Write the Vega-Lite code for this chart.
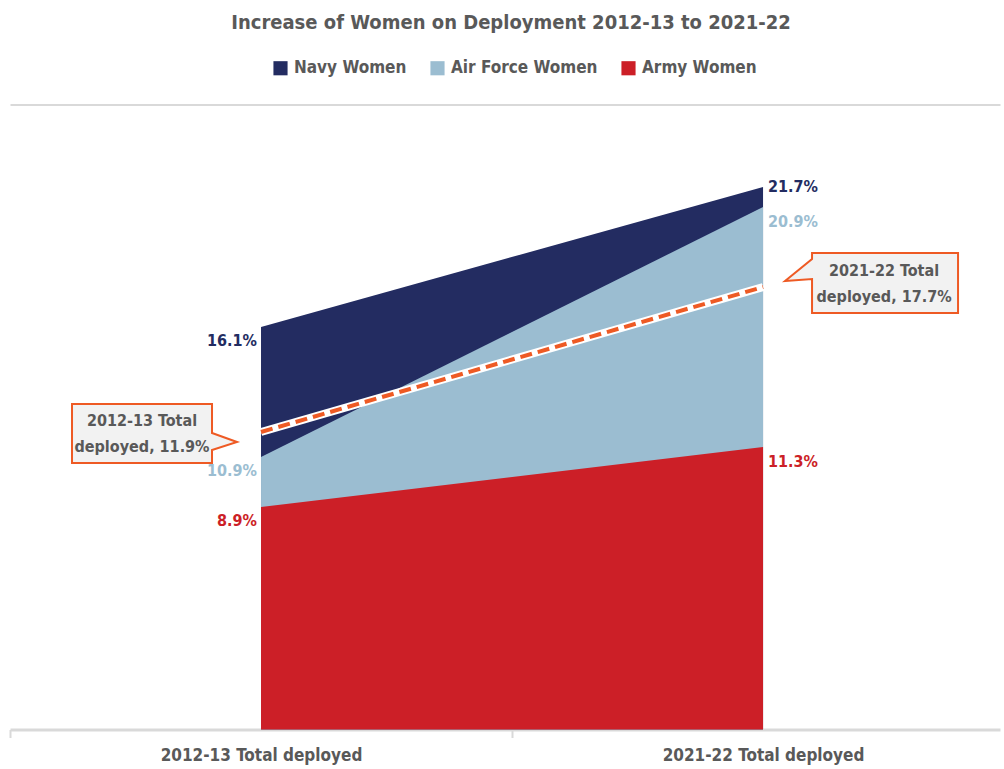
{
  "$schema": "https://vega.github.io/schema/vega-lite/v6.json",
  "width": 990,
  "height": 625,
  "autosize": {"type": "none"},
  "padding": {"left": 10, "top": 104.5, "right": 4, "bottom": 39.5},
  "background": "white",
  "config": {
    "view": {"stroke": null},
    "font": "DejaVu Sans Condensed",
    "text": {"font": "DejaVu Sans Condensed"}
  },
  "title": {
    "text": "Increase of Women on Deployment 2012-13 to 2021-22",
    "font": "DejaVu Sans Condensed",
    "fontSize": 20,
    "fontWeight": "bold",
    "color": "#595959",
    "anchor": "middle",
    "dx": 6,
    "offset": 27
  },
  "datasets": {
    "series": [
      {"x": 0, "series": "Navy Women", "value": 16.1, "label": "16.1%"},
      {"x": 1, "series": "Navy Women", "value": 21.7, "label": "21.7%"},
      {"x": 0, "series": "Air Force Women", "value": 10.9, "label": "10.9%"},
      {"x": 1, "series": "Air Force Women", "value": 20.9, "label": "20.9%"},
      {"x": 0, "series": "Army Women", "value": 8.9, "label": "8.9%"},
      {"x": 1, "series": "Army Women", "value": 11.3, "label": "11.3%"}
    ],
    "total": [
      {"x": 0, "total": 11.9, "label": "2012-13 Total\ndeployed, 11.9%"},
      {"x": 1, "total": 17.7, "label": "2021-22 Total\ndeployed, 17.7%"}
    ]
  },
  "encoding": {
    "x": {
      "field": "x",
      "type": "quantitative",
      "scale": {"domain": [-0.5, 1.472], "nice": false, "zero": false},
      "axis": {
        "title": null,
        "values": [-0.5, 0, 0.5, 1],
        "labelExpr": "datum.value == 0 ? '2012-13 Total deployed' : datum.value == 1 ? '2021-22 Total deployed' : ''",
        "grid": false,
        "domainColor": "#d9d9d9",
        "domainWidth": 3,
        "tickColor": {"condition": {"test": "datum.value == 0 || datum.value == 1", "value": "transparent"}, "value": "#d9d9d9"},
        "tickWidth": 2,
        "tickSize": 8,
        "labelPadding": 10,
        "labelFont": "DejaVu Sans Condensed",
        "labelFontSize": 17,
        "labelFontWeight": "bold",
        "labelColor": "#595959",
        "labelFlush": false,
        "labelOverlap": false,
        "labelLimit": 400
      }
    }
  },
  "layer": [
    {
      "data": {"name": "series"},
      "transform": [{"filter": "datum.series == 'Navy Women'"}],
      "mark": {"type": "area", "opacity": 1},
      "encoding": {
        "y": {
          "field": "value",
          "type": "quantitative",
          "stack": null,
          "scale": {"domain": [0, 25], "nice": false},
          "axis": {"title": null, "values": [25], "grid": true, "gridColor": "#d9d9d9", "gridWidth": 2, "labels": false, "ticks": false, "domain": false}
        },
        "color": {
          "field": "series",
          "type": "nominal",
          "scale": {"domain": ["Navy Women", "Air Force Women", "Army Women"], "range": ["#232c61", "#9bbdd1", "#cc1f27"]},
          "legend": {
            "title": null,
            "orient": "none",
            "legendX": 262,
            "legendY": -45,
            "direction": "horizontal",
            "symbolType": "square",
            "symbolSize": 200,
            "symbolStrokeWidth": 0,
            "labelFont": "DejaVu Sans Condensed",
            "labelFontSize": 17,
            "labelFontWeight": "bold",
            "labelColor": "#595959",
            "labelOffset": 5,
            "columnPadding": 22
          }
        }
      }
    },
    {
      "data": {"name": "series"},
      "transform": [{"filter": "datum.series == 'Air Force Women'"}],
      "mark": {"type": "area", "opacity": 1},
      "encoding": {
        "y": {"field": "value", "type": "quantitative", "stack": null},
        "color": {"field": "series", "type": "nominal"}
      }
    },
    {
      "data": {"name": "series"},
      "transform": [{"filter": "datum.series == 'Army Women'"}],
      "mark": {"type": "area", "opacity": 1},
      "encoding": {
        "y": {"field": "value", "type": "quantitative", "stack": null},
        "color": {"field": "series", "type": "nominal"}
      }
    },
    {
      "data": {"name": "total"},
      "mark": {"type": "line", "color": "white", "strokeWidth": 8, "strokeCap": "butt"},
      "encoding": {"y": {"field": "total", "type": "quantitative"}}
    },
    {
      "data": {"name": "total"},
      "mark": {"type": "line", "color": "#ee5a24", "strokeWidth": 4, "strokeDash": [12, 6], "strokeCap": "butt"},
      "encoding": {"y": {"field": "total", "type": "quantitative"}}
    },
    {
      "data": {"name": "total"},
      "transform": [{"filter": "datum.x == 0"}],
      "mark": {
        "type": "point",
        "filled": true,
        "fill": "#f2f2f2",
        "stroke": "#ee5a24",
        "strokeWidth": 2,
        "opacity": 1,
        "size": 40000,
        "shape": "M-1.89,-0.28 L-0.49,-0.28 L-0.49,0.01 L-0.24,0.10 L-0.49,0.18 L-0.49,0.31 L-1.89,0.31 Z"
      },
      "encoding": {"y": {"field": "total", "type": "quantitative"}}
    },
    {
      "data": {"name": "total"},
      "transform": [{"filter": "datum.x == 1"}],
      "mark": {
        "type": "point",
        "filled": true,
        "fill": "#f2f2f2",
        "stroke": "#ee5a24",
        "strokeWidth": 2,
        "opacity": 1,
        "size": 40000,
        "shape": "M0.49,-0.34 L1.95,-0.34 L1.95,0.26 L0.49,0.26 L0.49,-0.08 L0.22,-0.06 L0.49,-0.28 Z"
      },
      "encoding": {"y": {"field": "total", "type": "quantitative"}}
    },
    {
      "data": {"name": "total"},
      "transform": [{"filter": "datum.x == 0"}],
      "mark": {"type": "text", "lineBreak": "\n", "font": "DejaVu Sans Condensed", "fontSize": 16, "fontWeight": "bold", "color": "#595959", "align": "center", "baseline": "middle", "lineHeight": 26, "dx": -119, "dy": -11},
      "encoding": {"y": {"field": "total", "type": "quantitative"}, "text": {"field": "label"}}
    },
    {
      "data": {"name": "total"},
      "transform": [{"filter": "datum.x == 1"}],
      "mark": {"type": "text", "lineBreak": "\n", "font": "DejaVu Sans Condensed", "fontSize": 16, "fontWeight": "bold", "color": "#595959", "align": "center", "baseline": "middle", "lineHeight": 26, "dx": 121, "dy": -16},
      "encoding": {"y": {"field": "total", "type": "quantitative"}, "text": {"field": "label"}}
    },
    {
      "data": {"name": "series"},
      "transform": [{"filter": "datum.x == 0"}],
      "mark": {"type": "text", "font": "DejaVu Sans Condensed", "fontSize": 16, "fontWeight": "bold", "align": "right", "baseline": "middle", "dx": -4, "dy": 14},
      "encoding": {
        "y": {"field": "value", "type": "quantitative"},
        "text": {"field": "label"},
        "color": {"field": "series", "type": "nominal", "legend": null}
      }
    },
    {
      "data": {"name": "series"},
      "transform": [{"filter": "datum.x == 1 && datum.series != 'Navy Women'"}],
      "mark": {"type": "text", "font": "DejaVu Sans Condensed", "fontSize": 16, "fontWeight": "bold", "align": "left", "baseline": "middle", "dx": 5, "dy": 15},
      "encoding": {
        "y": {"field": "value", "type": "quantitative"},
        "text": {"field": "label"},
        "color": {"field": "series", "type": "nominal", "legend": null}
      }
    },
    {
      "data": {"name": "series"},
      "transform": [{"filter": "datum.x == 1 && datum.series == 'Navy Women'"}],
      "mark": {"type": "text", "font": "DejaVu Sans Condensed", "fontSize": 16, "fontWeight": "bold", "align": "left", "baseline": "middle", "dx": 5, "dy": 0},
      "encoding": {
        "y": {"field": "value", "type": "quantitative"},
        "text": {"field": "label"},
        "color": {"field": "series", "type": "nominal", "legend": null}
      }
    }
  ]
}
